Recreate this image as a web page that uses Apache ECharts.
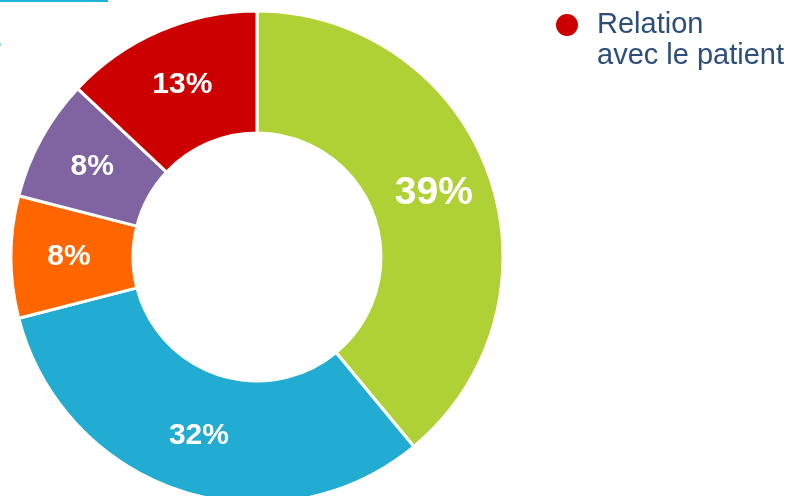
<!DOCTYPE html>
<html><head><meta charset="utf-8">
<style>html,body{margin:0;padding:0;background:#fff}#c{width:789px;height:496px}</style>
<script src="https://cdn.jsdelivr.net/npm/echarts@6/dist/echarts.min.js"></script>
</head><body><div id="c"></div>
<script>
var categories = ['Compétences techniques', 'Organisation', 'Communication', 'Travail en équipe', 'Relation\navec le patient'];
var values = [39, 32, 8, 8, 13];
var colors = ['#b0d135', '#23acd1', '#ff6600', '#8064a2', '#cc0000'];
var legendLabel = 'Relation\navec le patient';
var legendColor = '#cc0000';

var chart = echarts.init(document.getElementById('c'));
chart.setOption({
  animation: false,
  graphic: [
    { type: 'rect', shape: { x: 0, y: 0, width: 108, height: 2 }, style: { fill: '#1fb5d8' } },
    { type: 'rect', shape: { x: 0, y: 43, width: 1, height: 3 }, style: { fill: '#8fd8ea' } },
    { type: 'circle', shape: { cx: 567, cy: 25, r: 11 }, style: { fill: legendColor } },
    { type: 'text', left: 597, top: 9, style: {
        text: legendLabel, fill: '#2d4e7a', fontSize: 29, lineHeight: 31,
        fontFamily: 'Liberation Sans, Arial, sans-serif' } }
  ],
  series: [{
    type: 'pie',
    center: [257, 257],
    radius: [124, 246],
    startAngle: 90,
    clockwise: true,
    label: {
      show: true, position: 'inside', color: '#fff', fontWeight: 'bold',
      fontFamily: 'Liberation Sans, Arial, sans-serif', fontSize: 30,
      formatter: function (p) { return p.value + '%'; }
    },
    labelLine: { show: false },
    itemStyle: { borderColor: '#fff', borderWidth: 3 },
    emphasis: { disabled: true },
    data: categories.map(function (n, i) {
      var d = { name: n, value: values[i], itemStyle: { color: colors[i] } };
      if (i === 0) d.label = { fontSize: 39 };
      return d;
    })
  }]
});
</script></body></html>
